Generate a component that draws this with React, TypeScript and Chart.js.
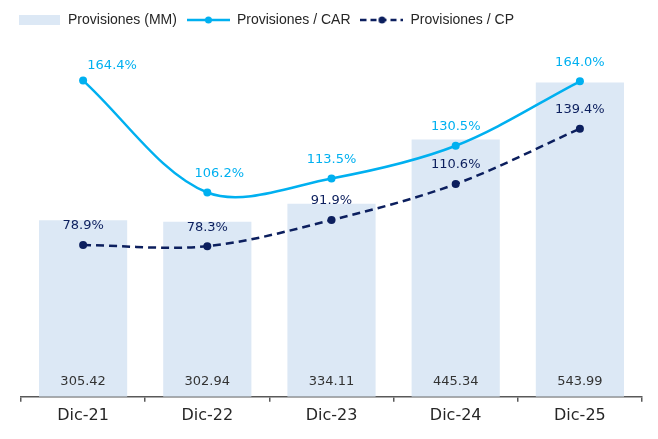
import React, { useEffect, useRef } from "react";
import { Chart, registerables } from "chart.js";

Chart.register(...registerables);

const categories = ["Dic-21", "Dic-22", "Dic-23", "Dic-24", "Dic-25"];
const provisionesMM = [305.42, 302.94, 334.11, 445.34, 543.99];
const provisionesCAR = [164.4, 106.2, 113.5, 130.5, 164.0];
const provisionesCP = [78.9, 78.3, 91.9, 110.6, 139.4];
const seriesNames = ["Provisiones (MM)", "Provisiones / CAR", "Provisiones / CP"];

const BAR_COLOR = "#DCE8F5";
const CAR_COLOR = "#00B0F0";
const CP_COLOR = "#0C1F5E";
const TEXT_COLOR = "#262626";
const FONT = "'DejaVu Sans', sans-serif";
const LEGEND_FONT = "'Liberation Sans', Arial, sans-serif";

// manual label nudges (x offsets in px) for the CAR labels, as in the original
const carLabelDx = [29, 12, 0, 0, 0];

function legendImage(kind: "bar" | "solid" | "dashed", color: string) {
  const c = document.createElement("canvas");
  c.width = 43;
  c.height = 10;
  const ctx = c.getContext("2d")!;
  if (kind === "bar") {
    ctx.fillStyle = color;
    ctx.fillRect(1, 0, 41, 10);
  } else {
    ctx.strokeStyle = color;
    ctx.lineWidth = 2.5;
    if (kind === "dashed") ctx.setLineDash([6, 4]);
    ctx.beginPath();
    ctx.moveTo(0, 5);
    ctx.lineTo(43, 5);
    ctx.stroke();
    ctx.setLineDash([]);
    ctx.fillStyle = color;
    ctx.beginPath();
    ctx.arc(21.5, 5, 3.5, 0, Math.PI * 2);
    ctx.fill();
  }
  return c;
}

const labelPlugin = {
  id: "valueLabels",
  afterDatasetsDraw(chart: any) {
    const ctx = chart.ctx;
    ctx.save();
    ctx.font = `13px ${FONT}`;
    ctx.textAlign = "center";
    ctx.textBaseline = "middle";
    chart.data.datasets.forEach((ds: any, i: number) => {
      const meta = chart.getDatasetMeta(i);
      const kind = ds.label;
      meta.data.forEach((el: any, j: number) => {
        const v = ds.data[j];
        if (kind === seriesNames[0]) {
          const base = chart.scales.y.getPixelForValue(0);
          ctx.fillStyle = "#333333";
          ctx.fillText(v.toFixed(2), el.x, base - 15);
        } else {
          const isCar = kind === seriesNames[1];
          ctx.fillStyle = isCar ? CAR_COLOR : CP_COLOR;
          const dx = isCar ? carLabelDx[j] : 0;
          const dy = isCar && j === 0 ? -15 : -19;
          ctx.fillText(v.toFixed(1) + "%", el.x + dx, el.y + dy);
        }
      });
    });
    ctx.restore();
  },
};

export default function App() {
  const ref = useRef<HTMLCanvasElement>(null);

  useEffect(() => {
    if (!ref.current) return;
    const imgs = [
      legendImage("bar", BAR_COLOR),
      legendImage("solid", CAR_COLOR),
      legendImage("dashed", CP_COLOR),
    ];
    const chart = new Chart(ref.current, {
      type: "bar",
      data: {
        labels: categories,
        datasets: [
          {
            type: "bar",
            label: seriesNames[0],
            data: provisionesMM,
            yAxisID: "y",
            backgroundColor: BAR_COLOR,
            barPercentage: 0.71,
            categoryPercentage: 1,
            order: 3,
          } as any,
          {
            type: "line",
            label: seriesNames[1],
            data: provisionesCAR,
            yAxisID: "y1",
            borderColor: CAR_COLOR,
            backgroundColor: CAR_COLOR,
            borderWidth: 2.5,
            pointRadius: 4,
            pointBackgroundColor: CAR_COLOR,
            pointBorderWidth: 0,
            tension: 0.33,
            order: 1,
          } as any,
          {
            type: "line",
            label: seriesNames[2],
            data: provisionesCP,
            yAxisID: "y1",
            borderColor: CP_COLOR,
            backgroundColor: CP_COLOR,
            borderWidth: 2.5,
            borderDash: [8, 5],
            pointRadius: 4,
            pointBackgroundColor: CP_COLOR,
            pointBorderWidth: 0,
            tension: 0.33,
            order: 2,
          } as any,
        ],
      },
      options: {
        animation: false,
        responsive: true,
        maintainAspectRatio: false,
        layout: { padding: { top: 3, left: 8, right: 0, bottom: 10 } },
        plugins: {
          tooltip: { enabled: false },
          legend: {
            display: true,
            position: "top",
            align: "start",
            labels: {
              usePointStyle: true,
              pointStyleWidth: 43,
              boxHeight: 10,
              padding: 10,
              color: TEXT_COLOR,
              font: { family: LEGEND_FONT, size: 14 },
              generateLabels: () =>
                [0, 1, 2].map((k) => ({
                  text: seriesNames[k],
                  pointStyle: imgs[k] as any,
                  fillStyle: "transparent",
                  strokeStyle: "transparent",
                  lineWidth: 0,
                  hidden: false,
                  fontColor: TEXT_COLOR,
                  datasetIndex: k,
                })) as any,
            },
          },
        },
        scales: {
          x: {
            offset: true,
            grid: {
              display: true,
              drawOnChartArea: false,
              drawTicks: true,
              tickLength: 5,
              color: "#595959",
              lineWidth: 1.5,
              offset: true,
            },
            border: { display: true, color: "#595959", width: 1.5 },
            ticks: { color: TEXT_COLOR, font: { family: FONT, size: 16 }, padding: 4 },
          },
          y: {
            position: "left",
            min: 0,
            max: 622.6,
            grid: { display: false },
            border: { display: false },
            ticks: { display: false },
            afterFit: (s: any) => {
              s.width = 13;
            },
          },
          y1: {
            position: "right",
            min: 0,
            max: 187.05,
            grid: { display: false },
            border: { display: false },
            ticks: { display: false },
            afterFit: (s: any) => {
              s.width = 16;
            },
          },
        },
      },
      plugins: [labelPlugin],
    });
    return () => chart.destroy();
  }, []);

  return (
    <div style={{ position: "absolute", left: 0, top: 0, width: 658, height: 439 }}>
      <canvas ref={ref} />
    </div>
  );
}
